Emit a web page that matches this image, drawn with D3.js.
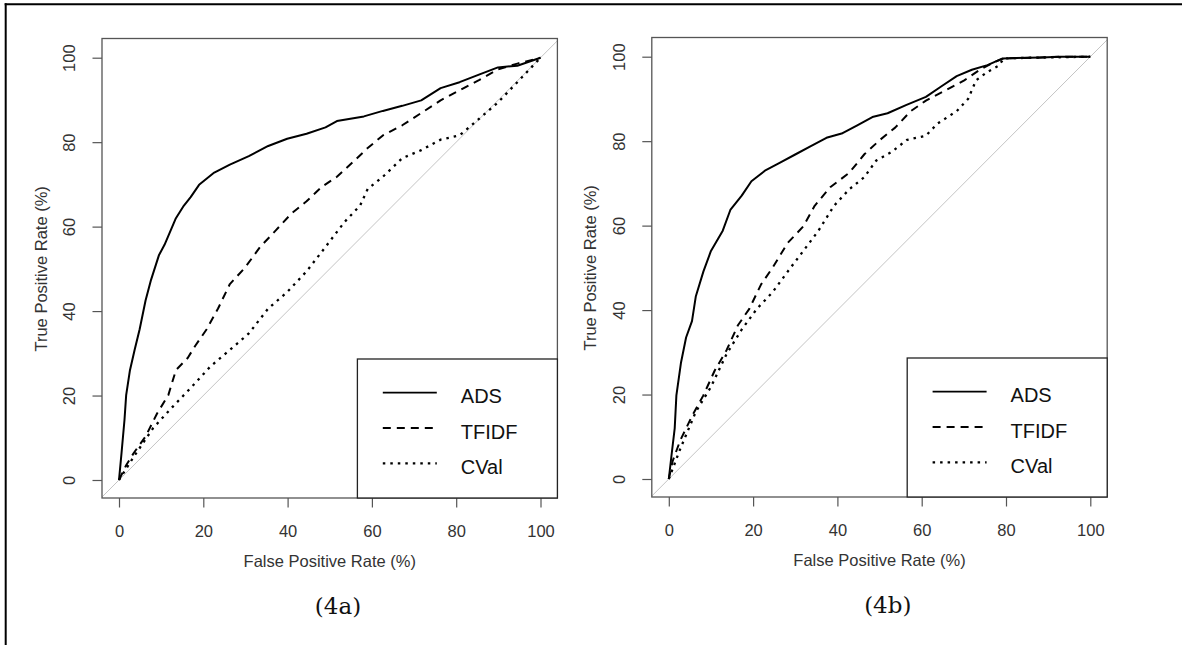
<!DOCTYPE html>
<html lang="en">
<head>
<meta charset="UTF-8">
<title>ROC curves (4a) (4b)</title>
<script src="https://cdnjs.cloudflare.com/ajax/libs/d3/7.8.5/d3.min.js"></script>
<style>
    body { margin: 0; background: #fff; }
    svg { display: block; }
    .tick text { font-family: "Liberation Sans", Arial, sans-serif; font-size: 16.5px; fill: #333; }
    .tick line { stroke: #555; stroke-width: 1.2; }
    .axis-title { font-family: "Liberation Sans", Arial, sans-serif; font-size: 16.5px; fill: #333; }
    .legend-text { font-family: "Liberation Sans", Arial, sans-serif; font-size: 20px; fill: #111; }
    .caption { font-family: "DejaVu Serif", serif; font-size: 23px; fill: #111; }
</style>
</head>
<body>
<div id="chart"></div>
<script>
    // Data: [FPR %, TPR %]
    const adsA = [[0,0],[0.6,6.4],[1.3,14.2],[1.7,20.1],[2.6,26],[3.7,30.8],[4.9,35.7],[6.3,42.5],[7.6,47.4],
        [9.5,53.3],[10.8,55.7],[13.5,62],[15.4,65],[17,67],[19,69.9],[22.6,72.8],[26.3,74.7],[30.8,76.7],
        [35.4,79.1],[39.9,80.8],[44.5,82],[49,83.5],[51.7,85],[58.1,86.1],[62.6,87.4],[67.2,88.6],
        [71.7,89.9],[76.3,92.8],[80.8,94.2],[85.4,96],[89.9,97.7],[94.5,98.1],[100,100]];
    const tfidfA = [[0,0],[1.7,3.5],[3.5,6.4],[6.3,10.3],[9,15.7],[11.7,20.1],[13.5,26],[16.3,28.9],
        [18.1,31.8],[20.8,35.7],[23.5,40.6],[26.3,46.4],[29.9,50.3],[33.5,55.2],[37.2,59.1],[40.8,63],
        [44.5,66],[48.1,69.4],[51.7,71.8],[55.4,75.2],[59,78.6],[62.6,81.6],[67.2,84],[71.7,86.9],
        [76.3,89.9],[80.8,92.3],[85.4,94.7],[89.9,97.2],[94.5,98.6],[100,100]];
    const cvalA = [[0,0],[3.5,5.5],[8.1,12.3],[12.6,17.2],[17.2,22],[21.7,26.9],[26.3,30.8],[30.8,34.7],
        [35.4,40.6],[39.9,44.5],[44.5,49.4],[49,55.2],[53.5,61.1],[57.2,65],[59,68.9],[62.6,71.8],
        [67.2,76.2],[71.7,78.1],[76.3,80.6],[80.8,81.6],[85.4,85.5],[89.9,89.4],[94.5,94.2],[100,100]];

    const adsB = [[0,0],[0.7,6.1],[1.4,12],[1.8,19.8],[2.9,27.6],[4.1,33.5],[5.5,37.4],[6.4,43.2],
        [8.2,49.1],[10,54],[12.8,58.8],[14.6,63.7],[17.3,67.1],[19.6,70.5],[22.8,73],[26.4,74.9],
        [30.1,76.9],[33.7,78.8],[37.4,80.8],[41,81.8],[44.6,83.7],[48.3,85.7],[51.9,86.6],[56.4,88.6],
        [61,90.5],[64.7,93],[68.3,95.4],[71.9,96.9],[75.6,98],[79.2,99.6],[88.3,99.8],[92.9,100],[100,100]];
    const tfidfB = [[0,0],[0.9,4.2],[2.7,9.1],[5.5,14.9],[8.2,19.8],[10.9,25.7],[13.7,30.5],[16.4,36.4],
        [19.1,40.3],[21.9,46.1],[24.6,50],[28.2,55.9],[31.9,59.8],[34.6,64.7],[38.3,69.1],[42.8,72.5],
        [46.4,76.9],[50.1,80.3],[53.7,83.2],[57.4,87.1],[61,89.6],[65.6,92],[70.1,94.4],[73.8,96.9],
        [77.4,98.8],[79.5,99.6],[88.3,99.8],[92.9,100],[100,100]];
    const cvalB = [[0,0],[2.7,7.1],[6.4,15.9],[10,21.8],[13.7,29.6],[17.3,35.4],[20.9,40.3],[24.6,44.2],
        [28.2,49.1],[31.9,54],[35.5,58.8],[39.2,64.7],[42.8,68.6],[46.4,71.5],[49.2,75.4],[52.8,77.4],
        [56.5,80.3],[61,81.3],[63.8,84.2],[68.3,87.1],[71,90],[72.9,94.4],[75.6,96.4],[78.3,97.9],
        [79.5,99.6],[88.3,99.8],[100,100]];

    const seriesNames = ["ADS", "TFIDF", "CVal"];
    const captions = ["(4a)", "(4b)"];
    const ticks = [0, 20, 40, 60, 80, 100];

    const dashes = { ADS: null, TFIDF: "8,6", CVal: "2.5,5" };

    const W = 1182, H = 645;
    const svg = d3.select("#chart").append("svg").attr("width", W).attr("height", H);

    // outer frame (top and left edges only)
    svg.append("line").attr("x1", 4.7).attr("x2", W).attr("y1", 4.3).attr("y2", 4.3)
        .attr("stroke", "#000").attr("stroke-width", 2);
    svg.append("line").attr("x1", 5.7).attr("x2", 5.7).attr("y1", 3.3).attr("y2", H)
        .attr("stroke", "#000").attr("stroke-width", 2);

    const box = { left: 102, right: 557.4, top: 38.5, bottom: 498 };
    const x = d3.scaleLinear().domain([0, 100]).range([119, 540.5]);
    const y = d3.scaleLinear().domain([0, 100]).range([480, 57.7]);

    const line = d3.line().x(d => x(d[0])).y(d => y(d[1]));

    function drawPanel(g, data, caption, idx) {
        const clipId = "clip" + idx;
        g.append("clipPath").attr("id", clipId).append("rect")
            .attr("x", box.left).attr("y", box.top)
            .attr("width", box.right - box.left).attr("height", box.bottom - box.top);

        // diagonal reference line
        g.append("line")
            .attr("clip-path", `url(#${clipId})`)
            .attr("x1", x(-10)).attr("y1", y(-10)).attr("x2", x(110)).attr("y2", y(110))
            .attr("stroke", "#c4c4c4").attr("stroke-width", 1);

        seriesNames.forEach((name, i) => {
            g.append("path")
                .datum(data[i])
                .attr("clip-path", `url(#${clipId})`)
                .attr("d", line)
                .attr("fill", "none")
                .attr("stroke", "#000")
                .attr("stroke-width", name === "CVal" ? 2.3 : 2)
                .attr("stroke-linejoin", "round")
                .attr("stroke-dasharray", dashes[name]);
        });

        // plot box
        g.append("rect")
            .attr("x", box.left).attr("y", box.top)
            .attr("width", box.right - box.left).attr("height", box.bottom - box.top)
            .attr("fill", "none").attr("stroke", "#555").attr("stroke-width", 1.3);

        // axes
        const xAxis = g.append("g")
            .attr("transform", `translate(0,${box.bottom})`)
            .call(d3.axisBottom(x).tickValues(ticks).tickSize(9.5).tickSizeOuter(0).tickPadding(0));
        xAxis.select(".domain").remove();
        xAxis.selectAll(".tick text").attr("dy", null).attr("y", 38.5);

        const yAxis = g.append("g")
            .attr("transform", `translate(${box.left},0)`)
            .call(d3.axisLeft(y).tickValues(ticks).tickSize(9.5).tickSizeOuter(0));
        yAxis.select(".domain").remove();
        yAxis.selectAll(".tick text")
            .attr("transform", "rotate(-90)")
            .attr("x", 0).attr("y", -27).attr("dy", null)
            .attr("text-anchor", "middle");

        g.append("text").attr("class", "axis-title")
            .attr("x", (x(0) + x(100)) / 2).attr("y", 567)
            .attr("text-anchor", "middle")
            .text("False Positive Rate (%)");

        g.append("text").attr("class", "axis-title")
            .attr("transform", `translate(${box.left - 55.5},${(y(0) + y(100)) / 2}) rotate(-90)`)
            .attr("text-anchor", "middle")
            .text("True Positive Rate (%)");

        // legend
        const lg = g.append("g").attr("transform", `translate(${box.right - 200},${box.bottom - 139})`);
        lg.append("rect").attr("width", 200).attr("height", 139)
            .attr("fill", "#fff").attr("stroke", "#222").attr("stroke-width", 1.3);
        seriesNames.forEach((name, i) => {
            const ly = 33.7 + i * 35.3;
            lg.append("line")
                .attr("x1", 25.4).attr("x2", 79.4).attr("y1", ly).attr("y2", ly)
                .attr("stroke", "#000").attr("stroke-width", name === "CVal" ? 2.2 : 1.8)
                .attr("stroke-dasharray", dashes[name]);
            lg.append("text").attr("class", "legend-text")
                .attr("x", 103.4).attr("y", ly + 10.6)
                .text(name);
        });

        g.append("text").attr("class", "caption")
            .attr("x", 338).attr("y", 614)
            .attr("text-anchor", "middle")
            .text(caption);
    }

    drawPanel(svg.append("g"), [adsA, tfidfA, cvalA], captions[0], 0);
    drawPanel(svg.append("g").attr("transform", "translate(549.8,-1)"), [adsB, tfidfB, cvalB], captions[1], 1);
</script>
</body>
</html>
